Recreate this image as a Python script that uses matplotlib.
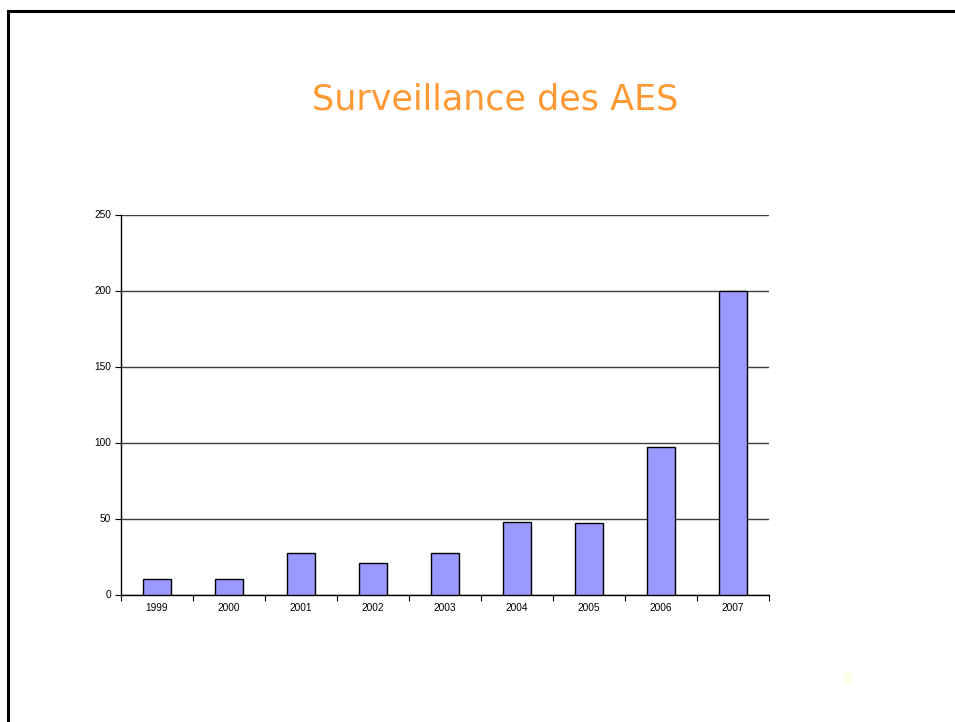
import numpy as np
import matplotlib
matplotlib.use("Agg")
import matplotlib.pyplot as plt
from matplotlib.lines import Line2D

# data
years = ['1999', '2000', '2001', '2002', '2003', '2004', '2005', '2006', '2007']
cases = [10, 10, 27, 21, 27, 48, 47, 97, 200]
yticks = [0, 50, 100, 150, 200, 250]
title = 'Surveillance des AES'
page_num = '6'

fig = plt.figure(figsize=(9.55, 7.22), dpi=100)
ax = fig.add_axes([121/955, 1 - 594.5/722, 648/955, 380/722])

x = np.arange(len(years))
ax.bar(x, cases, width=0.4, color='#9999FF', edgecolor='black', linewidth=1.0, zorder=3)

ax.set_xlim(-0.5, len(years) - 0.5)
ax.set_ylim(0, 250)
ax.set_yticks(yticks)
ax.set_yticklabels([str(v) for v in yticks], fontsize=7.3, family='Liberation Sans')
ax.yaxis.grid(True, color='#404040', linewidth=1.0, zorder=0)

# category labels at centres, tick marks between categories
ax.set_xticks(x)
ax.set_xticklabels(years, fontsize=7.3, family='Liberation Sans')
ax.tick_params(axis='x', length=0, pad=6)
ax.set_xticks(np.arange(-0.5, len(years)), minor=True)
ax.tick_params(axis='x', which='minor', length=4, width=0.8, direction='out')
ax.tick_params(axis='y', length=4, width=0.8, direction='out', pad=3)

for s in ['top', 'right']:
    ax.spines[s].set_visible(False)
ax.spines['left'].set_linewidth(1.0)
ax.spines['bottom'].set_linewidth(1.0)

fig.text(495/955, 1 - 100/722, title, ha='center', va='center',
         fontsize=25.2, color='#FF9933', family='DejaVu Sans')
fig.text(848/955, 1 - 678/722, page_num, ha='center', va='center',
         fontsize=10, color='#FFFFCC', style='italic')

# slide border (left and top edges)
fig.add_artist(Line2D([8/955, 8/955], [0, 1 - 11/722], color='black', linewidth=2.2,
                      transform=fig.transFigure))
fig.add_artist(Line2D([8/955, 1], [1 - 11/722, 1 - 11/722], color='black', linewidth=2.2,
                      transform=fig.transFigure))

fig.savefig('out.png', dpi=100)
